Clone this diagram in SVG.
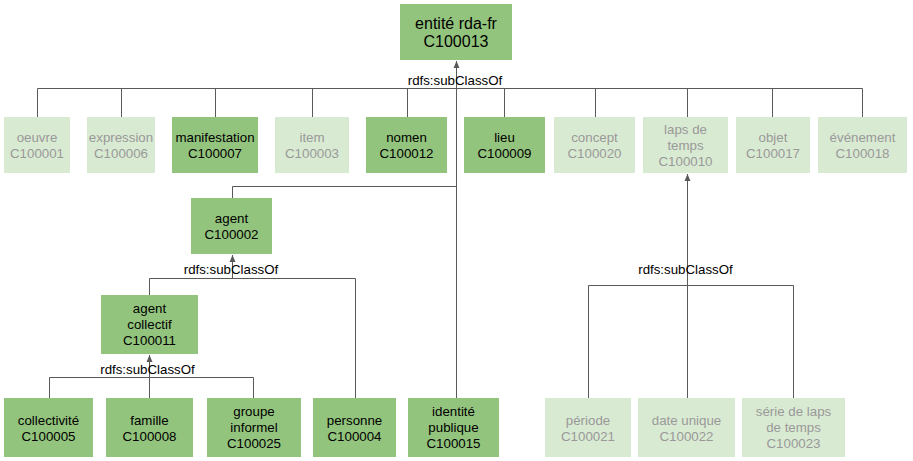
<svg xmlns="http://www.w3.org/2000/svg" width="913" height="461" viewBox="0 0 913 461">
<style>
text{font-family:"Liberation Sans",Arial,sans-serif;font-size:13.3px;text-anchor:middle}
.dk rect{fill:#93c47d}
.dk text{fill:#000}
.lt rect{fill:#d9ead3}
.lt text{fill:#999999}
.c{fill:none;stroke:#595959;stroke-width:1}
.lbl{fill:#000}
</style>
<defs>
<marker id="arr" markerUnits="userSpaceOnUse" viewBox="0 -4 8 8" refX="7" refY="0" markerWidth="8" markerHeight="8" orient="auto">
<path d="M0,-3 L7,0 L0,3 z" fill="#595959"/>
</marker>
</defs>
<g id="connectors">
<path class="c" d="M456.5,398 V61" marker-end="url(#arr)"/>
<path class="c" d="M37.5,117 V88.5 H862.5 V117 M121.5,88.5 V117 M215.5,88.5 V117 M312.5,88.5 V117 M407.5,88.5 V117 M504.5,88.5 V117 M595.5,88.5 V117 M687.5,88.5 V117 M772.5,88.5 V117"/>
<path class="c" d="M232.5,198 V186.5 H456.5"/>
<path class="c" d="M232.5,278.5 V255" marker-end="url(#arr)"/>
<path class="c" d="M149.5,295 V278.5 H355.5 V398"/>
<path class="c" d="M149.5,398 V355" marker-end="url(#arr)"/>
<path class="c" d="M49.5,398 V377.5 H253.5 V398"/>
<path class="c" d="M687.5,398 V174" marker-end="url(#arr)"/>
<path class="c" d="M588.5,398 V285.5 H793.5 V398"/>
<text class="lbl" x="455" y="84.5">rdfs:subClassOf</text>
<text class="lbl" x="231" y="274">rdfs:subClassOf</text>
<text class="lbl" x="147.5" y="374">rdfs:subClassOf</text>
<text class="lbl" x="685.5" y="274">rdfs:subClassOf</text>
</g>
<g id="n-C100013" class="dk"><rect x="400" y="4" width="112" height="56"/><text x="456" y="28.5" style="font-size:16px">entité rda-fr</text><text x="456" y="47" style="font-size:16px">C100013</text></g>
<g id="n-C100001" class="lt"><rect x="4" y="117" width="66" height="56"/><text x="37" y="142">oeuvre</text><text x="37" y="158">C100001</text></g>
<g id="n-C100006" class="lt"><rect x="87" y="117" width="68" height="56"/><text x="121" y="142">expression</text><text x="121" y="158">C100006</text></g>
<g id="n-C100007" class="dk"><rect x="172" y="117" width="86" height="56"/><text x="215" y="142">manifestation</text><text x="215" y="158">C100007</text></g>
<g id="n-C100003" class="lt"><rect x="275" y="117" width="74" height="56"/><text x="312" y="142">item</text><text x="312" y="158">C100003</text></g>
<g id="n-C100012" class="dk"><rect x="366" y="117" width="81" height="56"/><text x="406.5" y="142">nomen</text><text x="406.5" y="158">C100012</text></g>
<g id="n-C100009" class="dk"><rect x="464" y="117" width="81" height="56"/><text x="504.5" y="142">lieu</text><text x="504.5" y="158">C100009</text></g>
<g id="n-C100020" class="lt"><rect x="554" y="117" width="81" height="56"/><text x="594.5" y="142">concept</text><text x="594.5" y="158">C100020</text></g>
<g id="n-C100010" class="lt"><rect x="643" y="117" width="85" height="56"/><text x="685.5" y="133.5">laps de</text><text x="685.5" y="149.5">temps</text><text x="685.5" y="165.5">C100010</text></g>
<g id="n-C100017" class="lt"><rect x="736" y="117" width="74" height="56"/><text x="773" y="142">objet</text><text x="773" y="158">C100017</text></g>
<g id="n-C100018" class="lt"><rect x="818" y="117" width="89" height="56"/><text x="862.5" y="142">événement</text><text x="862.5" y="158">C100018</text></g>
<g id="n-C100002" class="dk"><rect x="191" y="198" width="81" height="56"/><text x="231.5" y="223">agent</text><text x="231.5" y="239">C100002</text></g>
<g id="n-C100011" class="dk"><rect x="101" y="295" width="97" height="59"/><text x="149.5" y="313">agent</text><text x="149.5" y="329">collectif</text><text x="149.5" y="345">C100011</text></g>
<g id="n-C100005" class="dk"><rect x="4" y="398" width="89" height="59"/><text x="48.5" y="424.5">collectivité</text><text x="48.5" y="440.5">C100005</text></g>
<g id="n-C100008" class="dk"><rect x="106" y="398" width="87" height="59"/><text x="149.5" y="424.5">famille</text><text x="149.5" y="440.5">C100008</text></g>
<g id="n-C100025" class="dk"><rect x="207" y="398" width="94" height="59"/><text x="254" y="416">groupe</text><text x="254" y="432">informel</text><text x="254" y="448">C100025</text></g>
<g id="n-C100004" class="dk"><rect x="313" y="398" width="83" height="59"/><text x="354.5" y="424.5">personne</text><text x="354.5" y="440.5">C100004</text></g>
<g id="n-C100015" class="dk"><rect x="408" y="398" width="91" height="59"/><text x="453.5" y="416">identité</text><text x="453.5" y="432">publique</text><text x="453.5" y="448">C100015</text></g>
<g id="n-C100021" class="lt"><rect x="545" y="398" width="86" height="59"/><text x="588" y="424.5">période</text><text x="588" y="440.5">C100021</text></g>
<g id="n-C100022" class="lt"><rect x="638" y="398" width="97" height="59"/><text x="686.5" y="424.5">date unique</text><text x="686.5" y="440.5">C100022</text></g>
<g id="n-C100023" class="lt"><rect x="742" y="398" width="103" height="59"/><text x="793.5" y="416">série de laps</text><text x="793.5" y="432">de temps</text><text x="793.5" y="448">C100023</text></g>
</svg>
